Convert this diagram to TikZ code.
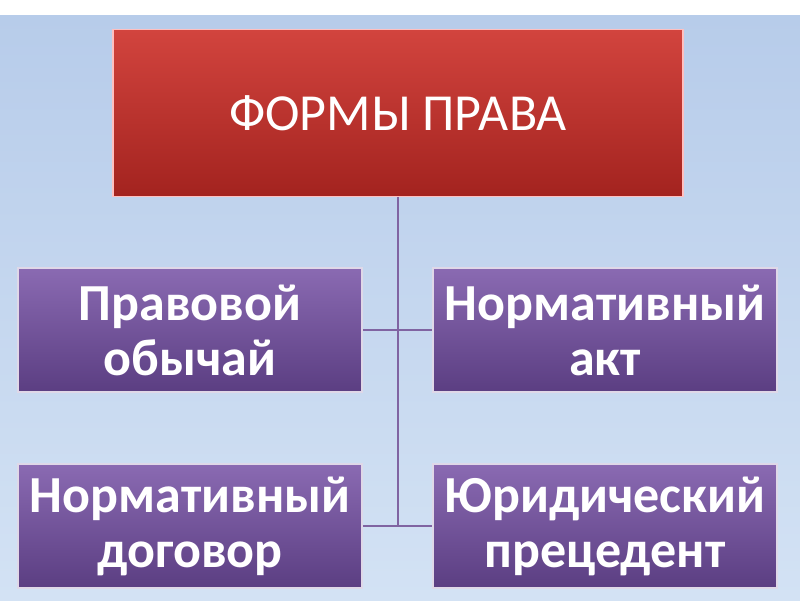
\documentclass[tikz,border=0pt]{standalone}
\usepackage{fontspec}
\setmainfont{Carlito}
\definecolor{ptop}{HTML}{8A6AB2}
\definecolor{pbot}{HTML}{5B3E82}
\definecolor{rtop}{HTML}{D2443E}
\definecolor{rbot}{HTML}{A3231F}
\definecolor{bgtop}{HTML}{B7CCEA}
\definecolor{bgbot}{HTML}{D3E2F4}
\definecolor{lnk}{HTML}{8064A2}
\begin{document}
\begin{tikzpicture}[x=1pt,y=-1pt,
  pbox/.style={draw=white!75!lnk, line width=1.5pt, top color=ptop, bottom color=pbot, minimum width=344pt, minimum height=124pt, inner sep=0pt, text=white, font=\fontsize{52}{55}\selectfont\bfseries, align=center},
  link/.style={draw=lnk, line width=2.5pt}]
\useasboundingbox (0,0) rectangle (800,600);
\fill[white] (0,0) rectangle (800,15);
\shade[top color=bgtop, bottom color=bgbot] (0,15) rectangle (800,600);
\node[draw=white!75!red, line width=1.5pt, top color=rtop, bottom color=rbot, minimum width=570pt, minimum height=167pt, text=white, font=\fontsize{52}{54}\selectfont] (top) at (398,113) {ФОРМЫ ПРАВА};
\node[pbox] (a) at (190,330) {Правовой\\обычай};
\node[pbox] (b) at (605,330) {Нормативный\\акт};
\node[pbox] (c) at (190,526) {Нормативный\\договор};
\node[pbox] (d) at (605,526) {Юридический\\прецедент};
\coordinate (j2) at (398,526);
\draw[link] (top.south) -- (j2);
\draw[link] (a.east) -- (b.west);
\draw[link] (c.east) -- (d.west);
\end{tikzpicture}
\end{document}
